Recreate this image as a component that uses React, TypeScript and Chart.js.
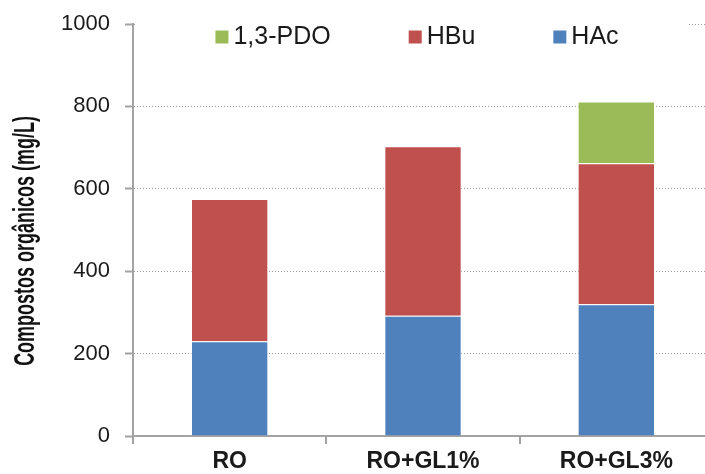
import React, { useEffect, useRef } from "react";
import { Chart, registerables } from "chart.js";

Chart.register(...registerables);

const categories = ["RO", "RO+GL1%", "RO+GL3%"];
const hacValues = [230, 292, 320];
const hbuValues = [345, 411, 342];
const pdoValues = [null, null, 150];
const yTicks = [0, 200, 400, 600, 800, 1000];
const yTitle = "Compostos orgânicos (mg/L)";

const FONT = "'Liberation Sans', Arial, sans-serif";
const BLUE = "#4F81BD";
const RED = "#C0504D";
const GREEN = "#9BBB59";
const AXIS = "#a3a3a3";

const legendPlugin = {
  id: "customLegend",
  beforeDatasetsDraw(chart: any) {
    const { ctx, chartArea } = chart;
    ctx.save();
    ctx.fillStyle = "#ffffff";
    ctx.fillRect(chartArea.left + 2, chartArea.top - 3, 554, 36);
    ctx.restore();
  },
  afterDraw(chart: any) {
    const { ctx, chartArea } = chart;
    const items = chart.data.datasets
      .map((d: any) => ({ label: d.label, color: d.backgroundColor }))
      .reverse();
    ctx.save();
    ctx.font = `25px ${FONT}`;
    const box = 13;
    const boxGap = 5;
    const itemGap = 78;
    const widths = items.map((it: any) => box + boxGap + ctx.measureText(it.label).width);
    const total = widths.reduce((a: number, b: number) => a + b, 0) + itemGap * (items.length - 1);
    const cx = (chartArea.left + chartArea.right) / 2 - 6;
    let x = cx - total / 2;
    const cy = chartArea.top + 13;
    items.forEach((it: any, i: number) => {
      ctx.fillStyle = it.color;
      ctx.fillRect(x, cy - box / 2, box, box);
      ctx.fillStyle = "#1a1a1a";
      ctx.textBaseline = "middle";
      ctx.textAlign = "left";
      ctx.fillText(it.label, x + box + boxGap, cy);
      x += widths[i] + itemGap;
    });
    ctx.restore();
  },
};

const titlePlugin = {
  id: "customYTitle",
  afterDraw(chart: any) {
    const { ctx, chartArea } = chart;
    ctx.save();
    ctx.font = `bold 29px ${FONT}`;
    ctx.fillStyle = "#111";
    ctx.textAlign = "center";
    ctx.textBaseline = "alphabetic";
    ctx.translate(34, (chartArea.top + chartArea.bottom) / 2 + 11);
    ctx.rotate(-Math.PI / 2);
    ctx.scale(0.62, 1);
    ctx.fillText(yTitle, 0, 0);
    ctx.restore();
  },
};

export default function App() {
  const canvasRef = useRef<HTMLCanvasElement | null>(null);

  useEffect(() => {
    if (!canvasRef.current) return;
    const chart = new Chart(canvasRef.current, {
      type: "bar",
      data: {
        labels: categories,
        datasets: [
          {
            label: "HAc",
            data: hacValues,
            backgroundColor: BLUE,
            borderColor: "rgba(255,255,255,0.45)",
            borderWidth: 1,
            barPercentage: 0.4,
            categoryPercentage: 1,
          },
          {
            label: "HBu",
            data: hbuValues,
            backgroundColor: RED,
            borderColor: "rgba(255,255,255,0.45)",
            borderWidth: 1,
            barPercentage: 0.4,
            categoryPercentage: 1,
          },
          {
            label: "1,3-PDO",
            data: pdoValues,
            backgroundColor: GREEN,
            borderColor: "rgba(255,255,255,0.45)",
            borderWidth: 1,
            barPercentage: 0.4,
            categoryPercentage: 1,
          },
        ],
      },
      options: {
        responsive: false,
        animation: false,
        layout: { padding: { left: 0, top: 24, right: 7, bottom: 0 } },
        plugins: {
          legend: { display: false },
          tooltip: { enabled: false },
          title: { display: false },
        },
        scales: {
          x: {
            stacked: true,
            grid: {
              drawOnChartArea: false,
              drawTicks: true,
              tickLength: 8,
              color: AXIS,
              lineWidth: 2,
            },
            border: { display: true, color: AXIS, width: 2 },
            ticks: {
              padding: 4,
              color: "#1a1a1a",
              font: { family: FONT, size: 23, weight: "bold" },
            },
            afterFit(scale: any) {
              scale.height = 38;
            },
          },
          y: {
            stacked: true,
            min: yTicks[0],
            max: yTicks[yTicks.length - 1],
            afterBuildTicks(scale: any) {
              scale.ticks = yTicks.map((v) => ({ value: v }));
            },
            ticks: {
              padding: 15,
              color: "#1a1a1a",
              font: { family: FONT, size: 22 },
              callback: (v: any) => String(v),
            },
            grid: {
              color: "#9a9a9a",
              lineWidth: 1,
              tickLength: 8,
              tickColor: AXIS,
              tickWidth: 2,
              tickBorderDash: [],
            },
            border: { display: true, color: AXIS, width: 2, dash: [1, 2] },
            afterFit(scale: any) {
              scale.width = 133;
              scale.paddingTop = 0;
              scale.paddingBottom = 0;
            },
          },
        },
      },
      plugins: [legendPlugin, titlePlugin],
    });
    return () => chart.destroy();
  }, []);

  return (
    <div
      style={{
        position: "fixed",
        left: 0,
        top: 0,
        width: 705,
        height: 474,
        overflow: "hidden",
        background: "#fff",
      }}
    >
      <canvas ref={canvasRef} width={720} height={474} style={{ width: 720, height: 474, display: "block" }} />
    </div>
  );
}
